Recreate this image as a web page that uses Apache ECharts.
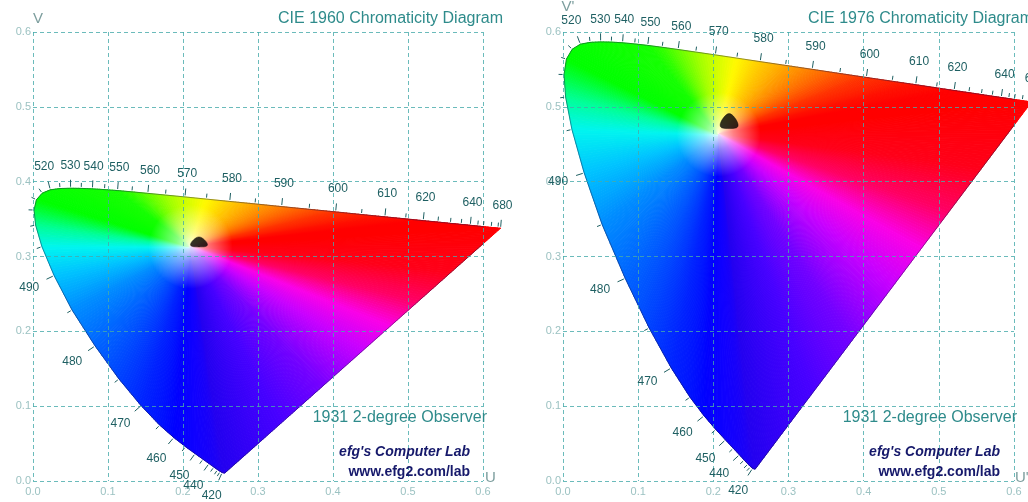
<!DOCTYPE html>
<html><head><meta charset="utf-8">
<script src="https://cdn.jsdelivr.net/npm/echarts/dist/echarts.min.js"></script>
<style>html,body{margin:0;padding:0;background:#fff}#c{width:1028px;height:502px}</style>
</head><body><div id="c"></div>
<script>
// ---- data (CIE 1931 2-degree observer spectral locus) ----
const WAVELENGTH = [400,410,420,425,430,435,440,445,450,455,460,465,470,475,480,485,490,495,500,505,510,515,520,525,530,535,540,545,550,555,560,565,570,575,580,585,590,595,600,605,610,615,620,625,630,635,640,645,650,660,670,680];
// u (CIE 1960) = u' (CIE 1976)
const U = [0.2557,0.2545,0.2522,0.2496,0.2461,0.2411,0.2347,0.2266,0.2161,0.2033,0.1877,0.1690,0.1441,0.1147,0.0828,0.0521,0.0282,0.0119,0.0035,0.0014,0.0046,0.0123,0.0231,0.0360,0.0501,0.0643,0.0792,0.0953,0.1127,0.1319,0.1531,0.1766,0.2026,0.2312,0.2623,0.2960,0.3315,0.3681,0.4035,0.4379,0.4692,0.4968,0.5203,0.5399,0.5565,0.5709,0.5830,0.5929,0.6005,0.6109,0.6199,0.6234];
const V = [0.0106,0.0106,0.0113,0.0128,0.0151,0.0186,0.0233,0.0291,0.0366,0.0459,0.0581,0.0746,0.1007,0.1363,0.1805,0.2285,0.2745,0.3132,0.3420,0.3621,0.3759,0.3846,0.3891,0.3908,0.3912,0.3910,0.3904,0.3894,0.3881,0.3864,0.3844,0.3821,0.3796,0.3767,0.3736,0.3703,0.3667,0.3631,0.3596,0.3561,0.3530,0.3503,0.3479,0.3460,0.3443,0.3429,0.3417,0.3407,0.3399,0.3389,0.3380,0.3377];
const V_PRIME = [0.0159,0.0159,0.0169,0.0191,0.0226,0.0279,0.0350,0.0437,0.0549,0.0688,0.0871,0.1119,0.1510,0.2044,0.2708,0.3427,0.4117,0.4698,0.5131,0.5432,0.5638,0.5770,0.5837,0.5861,0.5868,0.5865,0.5856,0.5841,0.5821,0.5796,0.5766,0.5732,0.5694,0.5651,0.5604,0.5554,0.5501,0.5446,0.5393,0.5342,0.5296,0.5254,0.5219,0.5190,0.5165,0.5143,0.5125,0.5111,0.5099,0.5084,0.5070,0.5065];
const LABELED = [420,440,450,460,470,480,490,520,530,540,550,560,570,580,590,600,610,620,640,680];
const WHITE_1960 = [0.210, 0.313];
const WHITE_1976 = [0.207, 0.463];
const BLOB_1960 = [[0.2213, 0.3195]];
const BLOB_1976 = [[0.2210, 0.4810]];
const AXIS_TICKS = ['0.0','0.1','0.2','0.3','0.4','0.5','0.6'];

// ---- styles ----
const EDGE_COLORS = [[400,[35,0,240]],[420,[35,0,240]],[450,[15,0,255]],[460,[0,0,255]],[470,[0,35,255]],[475,[0,65,255]],[480,[0,100,255]],[485,[0,140,255]],[490,[0,195,255]],[495,[0,245,240]],[500,[0,255,150]],[505,[0,255,60]],[510,[0,255,0]],[550,[20,255,0]],[555,[50,255,0]],[560,[100,255,0]],[565,[155,255,0]],[570,[205,255,0]],[575,[255,250,0]],[580,[255,205,0]],[585,[255,165,0]],[590,[255,125,0]],[595,[255,85,0]],[600,[255,50,0]],[610,[255,15,0]],[620,[255,0,0]],[680,[255,0,0]]];
const PURPLE_COLORS = [[0,[35,0,240]],[0.2,[70,0,255]],[0.35,[115,0,255]],[0.5,[200,0,255]],[0.6,[250,0,230]],[0.7,[255,0,100]],[0.82,[255,0,25]],[1,[255,0,0]]];
const FONT = 'Liberation Sans, Arial, sans-serif';
const LABEL_COLOR = '#1e5f62';

function lerpColor(table, key){
  if (key <= table[0][0]) return table[0][1];
  for (let j=0;j<table.length-1;j++){
    const k0=table[j][0], c0=table[j][1], k1=table[j+1][0], c1=table[j+1][1];
    if (key<=k1){const f=(key-k0)/(k1-k0);return c0.map((v,q)=>v+(c1[q]-v)*f);}
  }
  return table[table.length-1][1];
}
function mixWhite(c,f){return c.map(v=>v+(255-v)*f);}
function css(c){return 'rgb('+c.map(v=>Math.round(v)).join(',')+')';}
function wedge(a,b,w,c){
  const m=[(a[0]+b[0])/2,(a[1]+b[1])/2];
  const L=Math.hypot(m[0]-w[0],m[1]-w[1])||1;
  const o1=Math.min(Math.max(1-42/L,0.15),0.9);
  const o2=Math.min(Math.max(1-15/L,o1+0.01),0.98);
  const g=new echarts.graphic.LinearGradient(m[0],m[1],w[0],w[1],[
    {offset:0,color:css(c)},{offset:o1,color:css(c)},
    {offset:o2,color:css(mixWhite(c,0.5))},{offset:1,color:css(mixWhite(c,0.88))}],true);
  return {type:'polygon',shape:{points:[w,a,b]},style:{fill:g,stroke:g,lineWidth:1,lineJoin:'round'}};
}
// split a straight edge a->b into sub-wedges so the fill blends smoothly
function edgeWedges(a,b,w,colorAt,out){
  const len=Math.hypot(b[0]-a[0],b[1]-a[1]);
  const S=Math.max(1,Math.ceil(len/3));
  for(let s=0;s<S;s++){
    const t0=s/S,t1=(s+1)/S;
    const pa=[a[0]+(b[0]-a[0])*t0,a[1]+(b[1]-a[1])*t0];
    const pb=[a[0]+(b[0]-a[0])*t1,a[1]+(b[1]-a[1])*t1];
    out.push(wedge(pa,pb,w,colorAt((t0+t1)/2)));
  }
}
function fillSeries(ax, VV, W){
  const n=WAVELENGTH.length;
  return {type:'custom',xAxisIndex:ax,yAxisIndex:ax,z:1,silent:true,clip:false,
    data:WAVELENGTH.map((w,i)=>[U[i],VV[i]]),
    renderItem(params, api){
      const i=params.dataIndex; const wp=api.coord(W); const children=[];
      if(i<n-1){
        const a=api.coord([U[i],VV[i]]), b=api.coord([U[i+1],VV[i+1]]);
        const w0=WAVELENGTH[i], w1=WAVELENGTH[i+1];
        edgeWedges(a,b,wp,t=>lerpColor(EDGE_COLORS,w0+(w1-w0)*t),children);
      } else {
        const p0=api.coord([U[n-1],VV[n-1]]), p1=api.coord([U[0],VV[0]]);
        edgeWedges(p0,p1,wp,t=>lerpColor(PURPLE_COLORS,1-t),children);
      }
      return {type:'group',children};
    }};
}
function outlineSeries(ax, VV){
  const pts=U.map((u,i)=>[u,VV[i]]); pts.push([U[0],VV[0]]);
  return {type:'line',xAxisIndex:ax,yAxisIndex:ax,data:pts,symbol:'none',silent:true,z:3,
    lineStyle:{color:'rgba(25,25,70,0.45)',width:1}};
}
function tickSeries(ax, VV, W){
  const n=WAVELENGTH.length;
  const data=[]; WAVELENGTH.forEach((w,i)=>{ if(w>=420) data.push([U[i],VV[i],i]); });
  return {type:'custom',xAxisIndex:ax,yAxisIndex:ax,z:10,silent:true,clip:false,data,
    renderItem(params, api){
      const i=api.value(2);
      const p=api.coord([U[i],VV[i]]);
      const ia=Math.max(i-1,0), ib=Math.min(i+1,n-1);
      const pa=api.coord([U[ia],VV[ia]]), pb=api.coord([U[ib],VV[ib]]);
      const dx=pb[0]-pa[0], dy=pb[1]-pa[1], len=Math.hypot(dx,dy)||1;
      let nx=dy/len, ny=-dx/len;
      const wp=api.coord(W);
      if(nx*(p[0]-wp[0])+ny*(p[1]-wp[1])<0){nx=-nx;ny=-ny;}
      const wl=WAVELENGTH[i], lab=LABELED.indexOf(wl)>=0, tl=lab?7:4;
      const children=[{type:'line',shape:{x1:p[0]+nx*1.5,y1:p[1]+ny*1.5,x2:p[0]+nx*(1.5+tl),y2:p[1]+ny*(1.5+tl)},
        style:{stroke:LABEL_COLOR,lineWidth:1}}];
      if(lab){
        const d=tl+9+10*Math.abs(nx)+6*Math.abs(ny);
        children.push({type:'text',x:p[0]+nx*d,y:p[1]+ny*d,
          style:{text:String(wl),fill:LABEL_COLOR,fontSize:12,fontFamily:FONT,align:'center',verticalAlign:'middle'}});
      }
      return {type:'group',children};
    }};
}
const BLOB_PATH='path://M10,0 C14,0 20,9 20,13 C20,17 16,17 10,17 C4,17 0,17 0,13 C0,9 6,0 10,0 Z';
function blobSeries(ax, data, size){
  return {type:'scatter',xAxisIndex:ax,yAxisIndex:ax,data,symbol:BLOB_PATH,symbolSize:size,z:11,silent:true,
    itemStyle:{color:'#000',borderColor:'#000',borderWidth:0.5}};
}
function axis(grid, isX){
  return {type:'value',gridIndex:grid,min:0,max:0.6,interval:0.1,z:5,
    axisLine:{show:false},axisTick:{show:false},
    splitLine:{show:true,lineStyle:{color:'rgba(70,170,170,0.8)',type:[4,3],width:1}},
    axisLabel:{color:'#9cc2c2',fontSize:11,fontFamily:FONT,margin:isX?5:2,
      formatter:v=>AXIS_TICKS[Math.round(v*10)]}};
}
function txt(x,y,text,opts){
  return {type:'text',x,y,z:50,silent:true,style:Object.assign({text,fontFamily:FONT,fontSize:16,fill:'#2e8b8b',
    align:'right',verticalAlign:'middle'},opts||{})};
}
const graphics=[];
[[0,'CIE 1960 Chromaticity Diagram','V','U'],[530,'CIE 1976 Chromaticity Diagram',"V'","U'"]].forEach(([dx,title,vl,ul])=>{
  graphics.push(txt(503+dx,19,title));
  graphics.push(txt(487+dx,418,'1931 2-degree Observer'));
  graphics.push(txt(470+dx,452,"efg's Computer Lab",{fill:'#16196b',fontSize:14,fontWeight:'bold',fontStyle:'italic'}));
  graphics.push(txt(470+dx,472,'www.efg2.com/lab',{fill:'#16196b',fontSize:14,fontWeight:'bold'}));
  graphics.push(txt(38+dx,dx?7:19,vl,{fill:'#7d9e9e',fontSize:15,align:'center'}));
  graphics.push(txt(485+dx,478,ul,{fill:'#7d9e9e',fontSize:15,align:'left'}));
});

const chart=echarts.init(document.getElementById('c'));
chart.setOption({
  animation:false,
  grid:[{left:33,top:32,width:450,height:449},{left:563,top:32,width:451,height:449}],
  xAxis:[axis(0,true),axis(1,true)],
  yAxis:[axis(0,false),axis(1,false)],
  series:[
    fillSeries(0,V,WHITE_1960), outlineSeries(0,V), tickSeries(0,V,WHITE_1960), blobSeries(0,BLOB_1960,[17,10]),
    fillSeries(1,V_PRIME,WHITE_1976), outlineSeries(1,V_PRIME), tickSeries(1,V_PRIME,WHITE_1976), blobSeries(1,BLOB_1976,[18,15])
  ],
  graphic:graphics
});
</script></body></html>
